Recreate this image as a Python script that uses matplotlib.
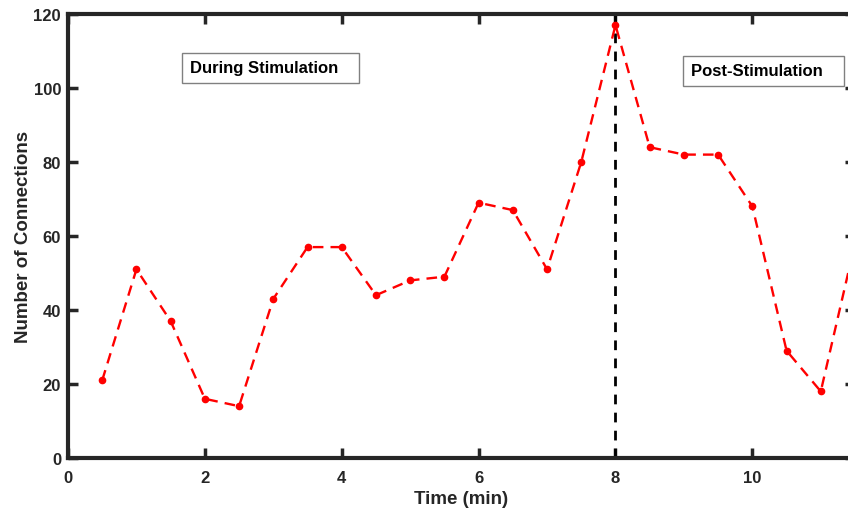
import matplotlib
matplotlib.use("Agg")
import matplotlib.pyplot as plt

plt.rcParams['font.family'] = ['Liberation Sans', 'DejaVu Sans']
plt.rcParams['font.weight'] = 'bold'

# time points (min) and connection counts
time_min = [0.5, 1, 1.5, 2, 2.5, 3, 3.5, 4, 4.5, 5, 5.5, 6,
            6.5, 7, 7.5, 8, 8.5, 9, 9.5, 10, 10.5, 11, 11.5]
connections = [21, 51, 37, 16, 14, 43, 57, 57, 44, 48, 49, 69,
               67, 51, 80, 117, 84, 82, 82, 68, 29, 18, 58]
stim_end = 8
x_ticks = [0, 2, 4, 6, 8, 10]
y_ticks = [0, 20, 40, 60, 80, 100, 120]

fig = plt.figure(figsize=(8.48, 5.10), dpi=100)
# axes run slightly past the right edge, as in the cropped original
ax = fig.add_axes([68 / 848, 51 / 510, 787 / 848, 444 / 510])

ax.plot(time_min, connections, color='red', linestyle='--', linewidth=1.7,
        dashes=(4.5, 3), marker='o', markersize=4.5, clip_on=False, zorder=3)
ax.axvline(stim_end, color='black', linestyle='--', linewidth=2, dashes=(3.5, 3))

ax.set_xlim(0, 11.5)
ax.set_ylim(0, 120)
ax.set_xticks(x_ticks)
ax.set_yticks(y_ticks)

for s in ax.spines.values():
    s.set_linewidth(3)
    s.set_color('#262626')
ax.tick_params(direction='in', length=7, width=2.5, color='#262626',
               labelsize=12, top=True, right=True)
ax.tick_params(axis='x', pad=9)
ax.tick_params(axis='y', pad=5)
for lab in ax.get_xticklabels() + ax.get_yticklabels():
    lab.set_fontweight('bold')
    lab.set_color('#262626')

ax.set_xlabel('Time (min)', fontsize=13.5, fontweight='bold', color='#262626', labelpad=3)
ax.set_ylabel('Number of Connections', fontsize=13.5, fontweight='bold', color='#262626', labelpad=1)

box = dict(boxstyle='square,pad=0.45', facecolor='white', edgecolor='#808080', linewidth=1)
ax.text(1.78, 105.5, 'During Stimulation   ', fontsize=12, fontweight='bold',
        va='center', ha='left', bbox=box)
ax.text(9.1, 104.7, 'Post-Stimulation   ', fontsize=12, fontweight='bold',
        va='center', ha='left', bbox=box)

fig.savefig('out.png', dpi=100)
